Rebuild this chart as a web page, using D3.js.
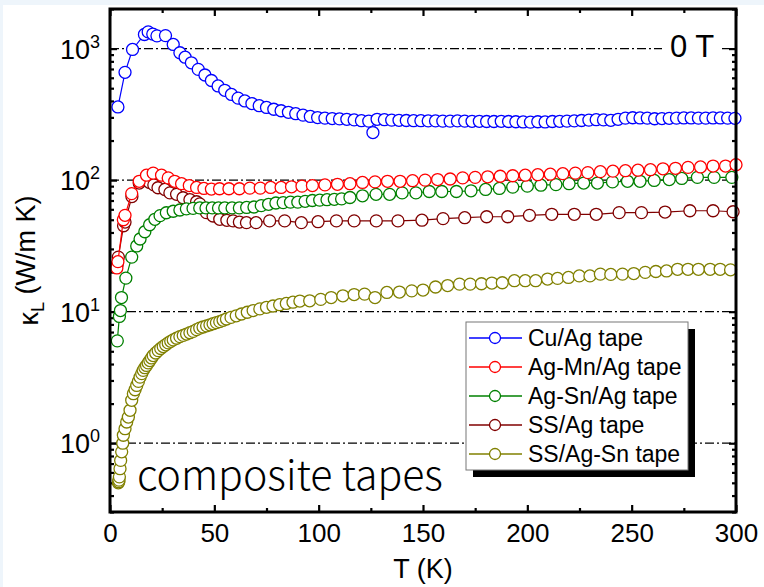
<!DOCTYPE html>
<html>
<head>
<meta charset="utf-8">
<script src="https://cdn.jsdelivr.net/npm/d3@7"></script>
<style>
  html, body { margin: 0; padding: 0; background: #fff; }
  svg { display: block; }
</style>
</head>
<body>
<svg id="chart" width="764" height="587"></svg>
<script>
// Lattice thermal conductivity kappa_L (W/m K) vs temperature T (K), zero field.
// Each series: [T, kappa] pairs.
const cuAg = [[3.8,360],[7.2,660],[10.8,985],[16.5,1280],[18.3,1340],[20.5,1290],[22.5,1250],[26.6,1255],[30.3,1075],[33.5,930],[36,860],[39,780],[42.3,695],[45.5,630],[48.6,572],[51.8,520],[55,482],[58.2,448],[61.4,420],[64.6,400],[68,382],[71.5,368],[75,357],[78.5,346],[82,337],[85.5,328],[89,320],[92.5,312],[96,305],[99.5,299],[103,296],[106.5,294],[110,292],[113.5,290],[117,287],[120.5,283],[124,281],[126,230],[128,290],[131.5,288],[135,286],[138.5,285],[142,284],[145.5,283],[149,283],[152.5,282],[156,282],[159.5,281],[163,281],[166.5,282],[170,281],[173.5,280],[177,280],[180.5,279],[184,279],[187.5,280],[191,279],[194.5,278],[198,277],[201.5,276],[205,278],[208.5,277],[212,279],[215.5,280],[219,281],[222.5,282],[226,284],[229.5,286],[233,288],[236.5,287],[240,285],[243.5,290],[247,296],[250.5,298],[254,297],[257.5,296],[261,293],[264.5,294],[268,295],[271.5,296],[275,297],[278.5,297],[282,296],[285.5,296],[289,297],[292.5,297],[296,296],[299.5,295]];

const agMnAg = [[3.3,21.5],[3.8,24],[6.4,50],[7.2,54],[10.4,79],[14,98],[17.5,109],[20.7,113],[24.7,109],[27.9,104],[31,98],[34.3,94],[38,91],[41.5,88],[45,86.5],[48.6,85.5],[52.5,86],[57,86],[62,86],[67,87],[72,87],[77,88],[82,88],[87,89],[92,90],[97,91],[103,92],[109,93],[115,94],[121,96],[127,97],[133,98],[139,98],[145,99],[151,100],[157,101],[163,102],[169,104],[175,105],[181,106],[187,107],[193,108],[199,109],[205,110],[211,111],[217,112],[223,113],[229,114],[235,116],[241,117],[247,118],[253,119],[259,120],[265,122],[271,123],[277,125],[283,126],[289,128],[295,128],[300,131]];

const agSnAg = [[3.5,6],[4.5,9.2],[5,10.2],[5.5,12.8],[7.6,18],[10.4,26],[12.8,31.6],[14.4,35.7],[16.7,40.5],[19,45.8],[21.5,50.4],[24,53.7],[27,56.5],[30.3,58],[33.5,59.3],[36.6,60.5],[39.8,61],[43,61.5],[46,61.5],[49,61.5],[52,61.5],[55,61.5],[58.5,61.5],[62,61.5],[65.5,62],[69,62.5],[72.5,64],[76,65.5],[79.5,67],[83,67.5],[86.5,68],[90,68],[93.5,69],[97,70],[100.5,70.5],[104,71],[107.5,71.5],[111,72],[115,73.8],[121,76],[127.5,78],[134,78],[140,80],[146.6,80],[153,82],[159,82],[166,82],[173,83],[180,85],[186.6,86.5],[193,88.5],[200,90],[206.5,91.5],[213.7,92.5],[220,94],[227,95],[233.6,95],[240.8,97],[248,98],[254,98],[260.8,99.5],[268,101],[274,103],[281.5,105],[289.5,105],[298,105]];

const ssAg = [[3.5,23],[4,26],[6.5,45],[7.2,48],[10.5,75],[14,95],[17.5,101],[19,96],[21,92],[23,87.5],[26.3,85],[28.7,80],[31.9,78],[35,73.5],[38.3,71],[41.5,68.5],[43,66],[46.2,56.6],[49.4,53.4],[52.6,50.4],[56,49.5],[59,49],[62,48],[65.4,47.5],[70,47.5],[76.5,49],[83.7,49],[91.7,47.5],[99.7,48.3],[108.5,49],[117,49],[127.6,49],[138,49],[149.5,49.6],[159.6,51],[170,51.8],[180.5,52.7],[190.6,52.7],[201,54],[211.7,55],[222.5,55],[233,55],[244,56.6],[254.7,56.6],[266,57.2],[277.9,58.5],[289,58.5],[298.6,57.5]];

const ssAgSn = [[4,0.5],[4.2,0.51],[4.3,0.524],[4.5,0.555],[4.8,0.64],[5.1,0.74],[5.6,0.86],[6.1,1.0],[6.4,1.15],[7.2,1.29],[8,1.45],[8.8,1.58],[9.6,1.78],[10.4,2.12],[11.2,2.38],[12,2.55],[12.8,2.75],[13.6,2.95],[14.4,3.18],[15.2,3.38],[15.9,3.58],[16.7,3.75],[17.5,3.9],[18.3,4.08],[19.1,4.25],[19.9,4.45],[20.7,4.64],[21.9,4.85],[23.1,5.06],[24.3,5.25],[25.5,5.43],[26.7,5.6],[27.9,5.79],[29.1,5.95],[30.3,6.1],[31.9,6.28],[33.5,6.46],[35.1,6.6],[36.7,6.76],[38.3,6.92],[39.9,7.08],[41.5,7.3],[43,7.5],[44.6,7.65],[46.3,7.8],[47.9,7.95],[49.4,8.1],[51,8.25],[52.6,8.4],[54.2,8.6],[55.8,8.8],[58,9.05],[60.5,9.3],[63,9.6],[65.8,9.9],[68.6,10.2],[71.8,10.5],[75,10.8],[78.1,11.05],[81.3,11.3],[84.5,11.55],[87.7,11.8],[91,12.05],[95.7,12.1],[101,12.4],[106,12.8],[111.6,13.2],[117,13.5],[122,13.6],[127,12.8],[132.7,14],[138.7,14.1],[144.6,14.4],[150,14.6],[156,15.4],[161.8,15.8],[167.5,16.2],[172.6,16.2],[178,16.3],[183,16.5],[188,16.6],[193.8,17.2],[199,17.2],[204,17.2],[209.7,17.7],[214.5,17.9],[219.7,18.2],[224.9,18.7],[230,18.7],[235,19.3],[240,19.2],[245.6,19.3],[251,19.5],[256.5,19.9],[261.6,20.2],[266.7,20.4],[272,21],[277,21],[282,21],[287.6,21],[292.4,21],[297.4,20.8]];

const seriesNames = ["Cu/Ag tape", "Ag-Mn/Ag tape", "Ag-Sn/Ag tape", "SS/Ag tape", "SS/Ag-Sn tape"];
const seriesColors = ["#0000ff", "#ff0000", "#008000", "#800000", "#808000"];
const seriesData = [cuAg, agMnAg, agSnAg, ssAg, ssAgSn];

const xMajorTicks = [0, 50, 100, 150, 200, 250, 300];
const xMinorTicks = [25, 75, 125, 175, 225, 275];
const yDecades = [1, 10, 100, 1000];
const yDecadeExponents = ["0", "1", "2", "3"];

const FONT = "'Liberation Sans', Arial, sans-serif";
const W = 764, H = 587;
const plot = { left: 110, right: 736, top: 9, bottom: 512 };

const svg = d3.select("#chart");

// page background with pale edge
svg.append("rect").attr("width", W).attr("height", H).attr("fill", "#eef5fb");
svg.append("rect").attr("x", 3).attr("y", 5).attr("width", W - 3).attr("height", H - 5).attr("fill", "#ffffff");

const x = d3.scaleLinear().domain([0, 300]).range([plot.left, plot.right]);
const y = d3.scaleLog().domain([0.3, 2000]).range([plot.bottom, plot.top]);

// dash-dot reference lines at each decade
svg.append("g").selectAll("line").data(yDecades).join("line")
  .attr("x1", plot.left).attr("x2", plot.right)
  .attr("y1", d => y(d)).attr("y2", d => y(d))
  .attr("stroke", "#000").attr("stroke-width", 1.2)
  .attr("stroke-dasharray", "9,3,2,3");

// minor y tick values (2..9 per decade)
const yMinor = [];
[0.1, 1, 10, 100, 1000].forEach(b => {
  for (let k = 2; k <= 9; k++) {
    const v = k * b;
    if (v >= 0.3 && v <= 2000) yMinor.push(v);
  }
});

// axes with inward ticks
const axisG = svg.append("g");
function drawAxis(gen, tx, ty) {
  const g = axisG.append("g").attr("transform", `translate(${tx},${ty})`).call(gen);
  g.select(".domain").remove();
  g.selectAll(".tick line").attr("stroke", "#000").attr("stroke-width", 2.2);
  return g;
}
const majLen = 7, minLen = 4;
// bottom
const bx = drawAxis(d3.axisBottom(x).tickValues(xMajorTicks).tickSizeInner(-majLen).tickSizeOuter(0).tickPadding(12).tickFormat(d3.format("d")), 0, plot.bottom);
bx.selectAll("text").attr("font-family", FONT).attr("font-size", 26).attr("fill", "#000");
drawAxis(d3.axisBottom(x).tickValues(xMinorTicks).tickSizeInner(-minLen).tickSizeOuter(0).tickFormat(""), 0, plot.bottom);
// top
drawAxis(d3.axisTop(x).tickValues(xMajorTicks).tickSizeInner(-majLen).tickSizeOuter(0).tickFormat(""), 0, plot.top);
drawAxis(d3.axisTop(x).tickValues(xMinorTicks).tickSizeInner(-minLen).tickSizeOuter(0).tickFormat(""), 0, plot.top);
// left
const ly = drawAxis(d3.axisLeft(y).tickValues(yDecades).tickSizeInner(-majLen).tickSizeOuter(0).tickPadding(10).tickFormat(""), plot.left, 0);
drawAxis(d3.axisLeft(y).tickValues(yMinor).tickSizeInner(-minLen).tickSizeOuter(0).tickFormat(""), plot.left, 0);
// right
drawAxis(d3.axisRight(y).tickValues(yDecades).tickSizeInner(-majLen).tickSizeOuter(0).tickFormat(""), plot.right, 0);
drawAxis(d3.axisRight(y).tickValues(yMinor).tickSizeInner(-minLen).tickSizeOuter(0).tickFormat(""), plot.right, 0);

// y tick labels as powers of ten
ly.selectAll(".tick").each(function(d, i) {
  const t = d3.select(this).select("text")
    .attr("font-family", FONT).attr("font-size", 27).attr("fill", "#000")
    .attr("text-anchor", "end").attr("x", -10).attr("dy", "0.36em");
  t.text(null);
  t.append("tspan").text("10");
  t.append("tspan").attr("font-size", 18).attr("dy", "-0.62em").text(yDecadeExponents[yDecades.indexOf(d)]);
});

// series, drawn so the first-listed ends up on top
const seriesG = svg.append("g");
const lineGen = d3.line().x(d => x(d[0])).y(d => y(d[1]));
for (let i = seriesData.length - 1; i >= 0; i--) {
  const g = seriesG.append("g");
  g.append("path").datum(seriesData[i])
    .attr("d", lineGen).attr("fill", "none")
    .attr("stroke", seriesColors[i]).attr("stroke-width", 1.2);
  g.selectAll("circle").data(seriesData[i]).join("circle")
    .attr("cx", d => x(d[0])).attr("cy", d => y(d[1])).attr("r", 6)
    .attr("fill", "#fff").attr("stroke", seriesColors[i]).attr("stroke-width", 1.3);
}

// plot frame
svg.append("rect")
  .attr("x", plot.left).attr("y", plot.top)
  .attr("width", plot.right - plot.left).attr("height", plot.bottom - plot.top)
  .attr("fill", "none").attr("stroke", "#000").attr("stroke-width", 3);

// field annotation
const fieldG = svg.append("g");
fieldG.append("rect").attr("x", 662).attr("y", 34).attr("width", 58).attr("height", 28).attr("fill", "#fff");
fieldG.append("text").attr("x", 692).attr("y", 57).attr("text-anchor", "middle")
  .attr("font-family", FONT).attr("font-size", 31).attr("fill", "#000").text("0 T");

// sample annotation
const compText = svg.append("text").attr("x", 137).attr("y", 490)
  .attr("font-family", "'Noto Sans CJK SC', 'Noto Sans', sans-serif")
  .attr("font-weight", 300).attr("font-size", 40).attr("fill", "#000")
  .text("composite tapes");
const cw = compText.node().getComputedTextLength();
compText.attr("font-size", 40 * 306 / cw);

// legend with drop shadow
const leg = { x: 466, y: 322, w: 222, h: 148 };
const legG = svg.append("g");
legG.append("rect").attr("x", leg.x + 7).attr("y", leg.y + 7).attr("width", leg.w).attr("height", leg.h).attr("fill", "#000");
legG.append("rect").attr("x", leg.x).attr("y", leg.y).attr("width", leg.w).attr("height", leg.h)
  .attr("fill", "#fff").attr("stroke", "#777").attr("stroke-width", 1);
seriesNames.forEach((name, i) => {
  const cy = leg.y + 16 + i * 29;
  legG.append("line").attr("x1", leg.x + 3).attr("x2", leg.x + 56).attr("y1", cy).attr("y2", cy)
    .attr("stroke", seriesColors[i]).attr("stroke-width", 1.3);
  legG.append("circle").attr("cx", leg.x + 29).attr("cy", cy).attr("r", 5.5)
    .attr("fill", "#fff").attr("stroke", seriesColors[i]).attr("stroke-width", 1.3);
  legG.append("text").attr("x", leg.x + 62).attr("y", cy).attr("dy", "0.36em")
    .attr("font-family", FONT).attr("font-size", 23).attr("fill", "#000").text(name);
});

// axis titles
svg.append("text").attr("x", (plot.left + plot.right) / 2).attr("y", 578)
  .attr("text-anchor", "middle").attr("font-family", FONT).attr("font-size", 27).attr("fill", "#000")
  .text("T (K)");

const yt = svg.append("text").attr("transform", `translate(38,${(plot.top + plot.bottom) / 2}) rotate(-90)`)
  .attr("text-anchor", "middle").attr("font-family", FONT).attr("font-size", 27).attr("fill", "#000");
yt.append("tspan").text("\u03BA");
yt.append("tspan").attr("font-size", 18).attr("dy", "0.35em").text("L");
yt.append("tspan").attr("dy", "-0.35em").text(" (W/m K)");
</script>
</body>
</html>
